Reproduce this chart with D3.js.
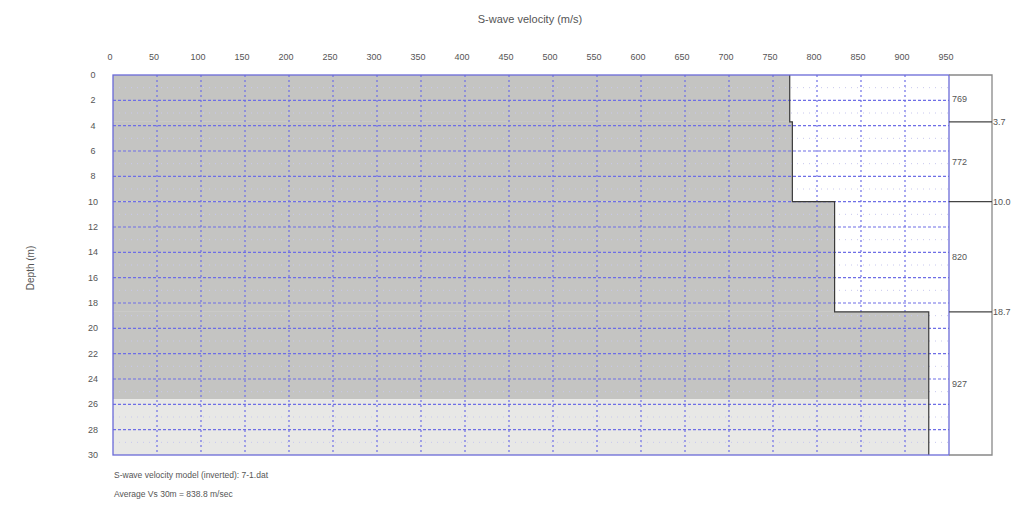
<!DOCTYPE html>
<html>
<head>
<meta charset="utf-8">
<script src="https://cdn.jsdelivr.net/npm/d3@7/dist/d3.min.js"></script>
<style>
  body { margin: 0; background: #fff; }
  text { font-family: "Liberation Sans", Arial, sans-serif; fill: #555; }
</style>
</head>
<body>
<svg id="chart" width="1020" height="508"></svg>
<script>
// layer model (inverted)
var layerTop = [0, 3.7, 10.0, 18.7];
var layerBottom = [3.7, 10.0, 18.7, 30];
var velocity = [769, 772, 820, 927];
var reliableDepth = 25.6;
var velocityTicks = [0, 50, 100, 150, 200, 250, 300, 350, 400, 450, 500, 550, 600, 650, 700, 750, 800, 850, 900, 950];
var depthTicks = [0, 2, 4, 6, 8, 10, 12, 14, 16, 18, 20, 22, 24, 26, 28, 30];
var depthMinor = [1, 3, 5, 7, 9, 11, 13, 15, 17, 19, 21, 23, 25, 27, 29];
var modelName = 'S-wave velocity model (inverted): 7-1.dat';
var avgText = 'Average Vs 30m = 838.8 m/sec';

var svg = d3.select('#chart');
var pLeft = 113, pRight = 949, pTop = 75, pBottom = 455, boxRight = 992;

var x = d3.scaleLinear().domain([0, 950]).range([pLeft, pRight]);
var y = d3.scaleLinear().domain([0, 30]).range([pTop, pBottom]);
var fx = function (d) { return x(d); };
var fy = function (d) { return y(d); };

var layers = velocity.map(function (v, i) {
    return { v: v, top: layerTop[i], bottom: layerBottom[i] };
});

// filled profile, darker above the reliable depth
var fills = svg.append('g');
layers.forEach(function (d) {
    var t1 = Math.min(d.bottom, reliableDepth);
    if (t1 > d.top) {
        fills.append('rect')
            .attr('x', x(0)).attr('y', y(d.top))
            .attr('width', x(d.v) - x(0)).attr('height', y(t1) - y(d.top))
            .attr('fill', '#c4c4c2');
    }
    var t0 = Math.max(d.top, reliableDepth);
    if (d.bottom > t0) {
        fills.append('rect')
            .attr('x', x(0)).attr('y', y(t0))
            .attr('width', x(d.v) - x(0)).attr('height', y(d.bottom) - y(t0))
            .attr('fill', '#e8e8e6');
    }
});

// grid
var grid = svg.append('g');
grid.selectAll('.minor').data(depthMinor).enter().append('line')
    .attr('x1', pLeft).attr('x2', pRight)
    .attr('y1', fy).attr('y2', fy)
    .attr('stroke', '#c8c8ee').attr('stroke-width', 1).attr('stroke-dasharray', '1,5');
grid.selectAll('.hgrid').data(depthTicks.slice(1, -1)).enter().append('line')
    .attr('x1', pLeft).attr('x2', pRight)
    .attr('y1', fy).attr('y2', fy)
    .attr('stroke', '#6e6ee6').attr('stroke-width', 1.2).attr('stroke-dasharray', '3,2');
grid.selectAll('.vgrid').data(velocityTicks.slice(1, -1)).enter().append('line')
    .attr('x1', fx).attr('x2', fx)
    .attr('y1', pTop).attr('y2', pBottom)
    .attr('stroke', '#6e6ee6').attr('stroke-width', 1.2).attr('stroke-dasharray', '2,3');

// step outline of the profile
var pts = [];
layers.forEach(function (d) {
    pts.push([x(d.v), y(d.top)]);
    pts.push([x(d.v), y(d.bottom)]);
});
svg.append('path')
    .attr('d', d3.line()(pts))
    .attr('fill', 'none').attr('stroke', '#3a3a3a').attr('stroke-width', 1.2);

// plot frame
svg.append('rect')
    .attr('x', pLeft).attr('y', pTop)
    .attr('width', pRight - pLeft).attr('height', pBottom - pTop)
    .attr('fill', 'none').attr('stroke', '#6a6ad8').attr('stroke-width', 1.3);

// side box with layer velocities and boundary depths
var box = svg.append('g');
box.append('path')
    .attr('d', 'M' + pRight + ',' + pTop + 'H' + boxRight + 'V' + pBottom + 'H' + pRight)
    .attr('fill', 'none').attr('stroke', '#888').attr('stroke-width', 1.3);
box.selectAll('.bnd').data(layerTop.slice(1)).enter().append('line')
    .attr('x1', pRight).attr('x2', boxRight)
    .attr('y1', fy).attr('y2', fy)
    .attr('stroke', '#444').attr('stroke-width', 1.2);
box.selectAll('.dlab').data(layerTop.slice(1)).enter().append('text')
    .attr('x', boxRight + 1).attr('y', fy)
    .attr('dy', '0.35em').attr('font-size', 9)
    .text(function (d) { return d.toFixed(1); });
box.selectAll('.vlab').data(layers).enter().append('text')
    .attr('x', pRight + 3).attr('y', function (d) { return y((d.top + d.bottom) / 2); })
    .attr('dy', '0.35em').attr('font-size', 9)
    .text(function (d) { return d.v; });

// tick labels
svg.append('g').selectAll('text').data(velocityTicks).enter().append('text')
    .attr('x', function (d) { return x(d) - 3; }).attr('y', 57)
    .attr('dy', '0.35em').attr('text-anchor', 'middle').attr('font-size', 9)
    .text(function (d) { return d; });
svg.append('g').selectAll('text').data(depthTicks).enter().append('text')
    .attr('x', 93).attr('y', fy)
    .attr('dy', '0.35em').attr('text-anchor', 'middle').attr('font-size', 9)
    .text(function (d) { return d; });

// titles
svg.append('text')
    .attr('x', 530).attr('y', 19).attr('dy', '0.35em')
    .attr('text-anchor', 'middle').attr('font-size', 11)
    .text('S-wave velocity (m/s)');
svg.append('text')
    .attr('transform', 'translate(30,268) rotate(-90)')
    .attr('dy', '0.35em').attr('text-anchor', 'middle').attr('font-size', 10)
    .text('Depth (m)');
svg.append('text')
    .attr('x', pLeft + 1).attr('y', 475).attr('dy', '0.35em').attr('font-size', 8.5)
    .text(modelName);
svg.append('text')
    .attr('x', pLeft + 1).attr('y', 494).attr('dy', '0.35em').attr('font-size', 8.5)
    .text(avgText);
</script>
</body>
</html>
